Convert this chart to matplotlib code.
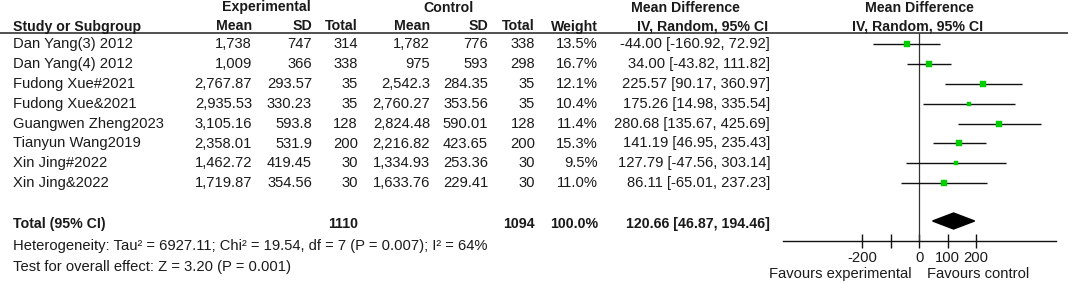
import matplotlib
matplotlib.use("Agg")
import matplotlib.pyplot as plt
from matplotlib.patches import Polygon

plt.rcParams['font.family'] = ['Liberation Sans', 'DejaVu Sans']

# ---------------- data ----------------
studies = ["Dan Yang(3) 2012", "Dan Yang(4) 2012", "Fudong Xue#2021", "Fudong Xue&2021",
           "Guangwen Zheng2023", "Tianyun Wang2019", "Xin Jing#2022", "Xin Jing&2022"]
exp_mean = ["1,738", "1,009", "2,767.87", "2,935.53", "3,105.16", "2,358.01", "1,462.72", "1,719.87"]
exp_sd = ["747", "366", "293.57", "330.23", "593.8", "531.9", "419.45", "354.56"]
exp_total = [314, 338, 35, 35, 128, 200, 30, 30]
ctl_mean = ["1,782", "975", "2,542.3", "2,760.27", "2,824.48", "2,216.82", "1,334.93", "1,633.76"]
ctl_sd = ["776", "593", "284.35", "353.56", "590.01", "423.65", "253.36", "229.41"]
ctl_total = [338, 298, 35, 35, 128, 200, 30, 30]
weights = [13.5, 16.7, 12.1, 10.4, 11.4, 15.3, 9.5, 11.0]
md = [-44.00, 34.00, 225.57, 175.26, 280.68, 141.19, 127.79, 86.11]
ci_lo = [-160.92, -43.82, 90.17, 14.98, 135.67, 46.95, -47.56, -65.01]
ci_hi = [72.92, 111.82, 360.97, 335.54, 425.69, 235.43, 303.14, 237.23]

total_exp = 1110
total_ctl = 1094
total_weight = "100.0%"
total_md = 120.66
total_lo = 46.87
total_hi = 194.46
heterogeneity = "Heterogeneity: Tau\u00b2 = 6927.11; Chi\u00b2 = 19.54, df = 7 (P = 0.007); I\u00b2 = 64%"
overall = "Test for overall effect: Z = 3.20 (P = 0.001)"
xticks = [-200, -100, 0, 100, 200]
xtick_labels = ["-200", "", "0", "100", "200"]

# ---------------- layout ----------------
W, H = 1072, 283
fig = plt.figure(figsize=(W / 100, H / 100), dpi=100)
ax = fig.add_axes([0, 0, 1, 1])
ax.set_xlim(0, W)
ax.set_ylim(H, 0)
ax.axis('off')

fs = 10.6
fsb = 10.2
row0, dy = 44, 19.9
total_y = 221
hdr1, hdr2 = 7.5, 26.5
line_y = 32.5

col_x = {"mean_e": 252, "sd_e": 312, "tot_e": 358, "mean_c": 430, "sd_c": 488,
         "tot_c": 535, "w": 598, "md": 770}

def t(x, y, s, ha='right', bold=False, **kw):
    ax.text(x, y, s, ha=ha, va='center', fontsize=fsb if bold else fs,
            fontweight='bold' if bold else 'normal', color='#1a1a1a', **kw)

# headers
t(266, hdr1, "Experimental", ha='center', bold=True)
t(449, hdr1, "Control", ha='center', bold=True)
t(685, hdr1, "Mean Difference", ha='center', bold=True)
t(919, hdr1, "Mean Difference", ha='center', bold=True)
t(13, hdr2, "Study or Subgroup", ha='left', bold=True)
t(col_x["mean_e"], hdr2, "Mean", bold=True)
t(col_x["sd_e"], hdr2, "SD", bold=True)
t(col_x["tot_e"], hdr2, "Total", bold=True)
t(col_x["mean_c"], hdr2, "Mean", bold=True)
t(col_x["sd_c"], hdr2, "SD", bold=True)
t(col_x["tot_c"], hdr2, "Total", bold=True)
t(col_x["w"], hdr2, "Weight", bold=True)
t(768, hdr2, "IV, Random, 95% CI", bold=True)
t(918, hdr2, "IV, Random, 95% CI", ha='center', bold=True)
ax.plot([0, 1068], [line_y, line_y], color='#333333', lw=1.2, solid_capstyle='butt')

# rows
for i, name in enumerate(studies):
    y = row0 + dy * i
    t(13, y, name, ha='left')
    t(col_x["mean_e"], y, exp_mean[i])
    t(col_x["sd_e"], y, exp_sd[i])
    t(col_x["tot_e"], y, str(exp_total[i]))
    t(col_x["mean_c"], y, ctl_mean[i])
    t(col_x["sd_c"], y, ctl_sd[i])
    t(col_x["tot_c"], y, str(ctl_total[i]))
    t(col_x["w"], y, f"{weights[i]:.1f}%")
    t(col_x["md"], y, f"{md[i]:.2f} [{ci_lo[i]:.2f}, {ci_hi[i]:.2f}]")

t(13, total_y + 3, "Total (95% CI)", ha='left', bold=True)
t(col_x["tot_e"], total_y + 3, str(total_exp), bold=True)
t(col_x["tot_c"], total_y + 3, str(total_ctl), bold=True)
t(col_x["w"], total_y + 3, total_weight, bold=True)
t(col_x["md"], total_y + 3, f"{total_md:.2f} [{total_lo:.2f}, {total_hi:.2f}]", bold=True)
t(13, 246, heterogeneity, ha='left')
t(13, 267, overall, ha='left')

# ---------------- forest panel ----------------
x0, x1 = 783, 1056
y_top, y_axis = 33, 241
fx = fig.add_axes([x0 / W, 1 - y_axis / H, (x1 - x0) / W, (y_axis - y_top) / H])
fx.set_xlim(-478, 480)
fx.set_ylim(y_axis, y_top)
fx.patch.set_alpha(0)
for s in ['top', 'right', 'left']:
    fx.spines[s].set_visible(False)
fx.spines['bottom'].set_linewidth(1.0)
fx.spines['bottom'].set_color('#111111')
fx.set_yticks([])
fx.set_xticks(xticks)
fx.set_xticklabels(xtick_labels, fontsize=fs, color='#1a1a1a')
fx.tick_params(axis='x', direction='inout', length=10, width=1.0, pad=2, color='#111111')
fx.axvline(0, color='#333333', lw=0.9)

for i in range(len(studies)):
    y = row0 + dy * i
    fx.plot([ci_lo[i], ci_hi[i]], [y, y], color='#111111', lw=1.0, solid_capstyle='butt')
    side_px = 1.55 * weights[i] ** 0.5
    fx.plot(md[i], y, marker='s', markersize=side_px * 72 / 100, color='#00CC00',
            markeredgewidth=0.3, markeredgecolor='#00CC00', linestyle='none')

diamond = Polygon([[total_lo, total_y], [total_md, total_y - 8], [total_hi, total_y],
                   [total_md, total_y + 8]], closed=True, facecolor='black', edgecolor='black')
fx.add_patch(diamond)

t(840, 274, "Favours experimental", ha='center')
t(978, 274, "Favours control", ha='center')

fig.savefig("out.png", dpi=100)
